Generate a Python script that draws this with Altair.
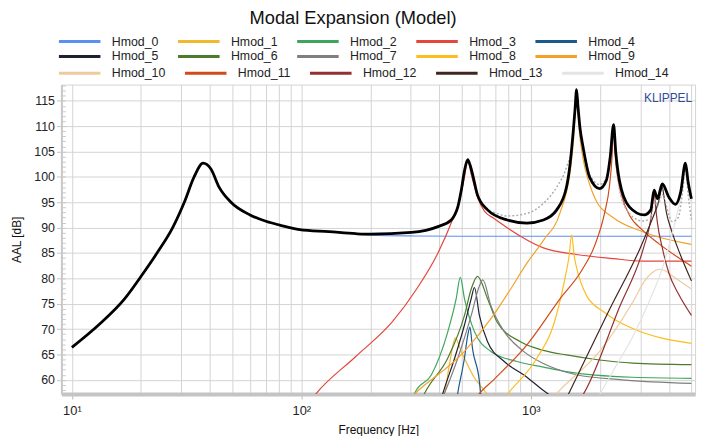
import altair as alt
import pandas as pd

# ---------------- data ----------------
TOTAL_F = [10, 13.07, 17, 20.1, 23.5, 27.5, 30.9, 34.1, 37.3, 40.3, 43.8, 49.1, 59.8, 70.6, 80.5, 98.4, 132,
           172.6, 200, 302, 394, 450, 466, 481, 498, 514, 531, 545, 557, 586, 648, 789, 962, 1135, 1297, 1431, 1483,
           1531, 1560, 1583, 1605, 1640, 1691, 1806, 1995, 2133, 2220, 2295, 2345, 2434, 2688, 3120, 3334, 3447,
           3563, 3743, 4000, 4272, 4500, 4721, 4850, 5012]
TOTAL_DB = [66.4, 70.8, 76.0, 80.5, 85.0, 90.0, 95.0, 100.0, 102.7, 101.6, 98.0, 95.1, 92.5, 91.2, 90.5, 89.6,
            89.2, 88.8, 88.7, 89.05, 90.2, 91.5, 92.5, 94.1, 97.4, 101.2, 103.4, 102.2, 100.6, 96.4, 93.5, 91.5, 90.9,
            91.5, 93.5, 98.0, 102.5, 109.0, 113.5, 117.2, 114.0, 109.5, 105.8, 99.9, 97.7, 99.3, 104.0, 110.3, 105.0,
            99.3, 94.1, 92.5, 93.5, 97.4, 95.7, 98.6, 96.0, 94.6, 97.0, 102.7, 99.0, 95.7]

DOT_F = [586, 648, 700, 789, 962, 1135, 1297, 1431, 1507, 1550, 1583, 1605, 1640, 1691, 1806, 1995, 2133, 2220, 2295,
         2345, 2434, 2688, 3070, 3334, 3447, 3563, 3743, 4000, 4130, 4392, 4600, 4721, 4850, 5012]
DOT_DB = [96.4, 93.6, 92.9, 92.3, 92.8, 94.8, 98.0, 101.9, 105.8, 111.0, 117.1, 114.0, 109.5, 106.0, 100.5, 98.5, 99.8,
          104.0, 110.0, 104.5, 97.5, 92.8, 91.3, 91.8, 95.5, 94.3, 96.5, 92.5, 91.2, 92.0, 97.5, 101.5, 96.5, 91.5]

H0_F = [10, 13.07, 17, 20.1, 23.5, 27.5, 30.9, 34.1, 37.3, 40.3, 43.8, 49.1, 59.8, 70.6, 80.5, 98.4, 132, 172.6,
        200, 314, 500, 1000, 2000, 5012]
H0_DB = [66.4, 70.8, 76.0, 80.5, 85.0, 90.0, 95.0, 100.0, 102.7, 101.6, 98.0, 95.1, 92.5, 91.2, 90.5, 89.6, 89.2,
         88.8, 88.5, 88.35, 88.3, 88.3, 88.3, 88.3]
H1_F = [400, 422, 444, 469, 498, 568, 637, 680]
H1_DB = [54.5, 57.5, 63.6, 68.2, 65.6, 60.4, 57.5, 55.5]
H2_F = [300, 313, 369, 435, 473, 493, 514, 568, 670, 873, 1135, 1431, 2780, 5012]
H2_DB = [55.5, 57.5, 61.0, 69.5, 76.0, 80.2, 76.0, 69.5, 65.6, 63.6, 62.5, 61.6, 60.5, 60.3]
H3_F = [110, 116, 172.7, 250, 318, 394, 458, 490, 514, 531, 550, 586, 627, 692, 789, 902, 1135, 1578, 2282, 3070, 5012]
H3_DB = [56.0, 57.3, 64.6, 71.5, 77.9, 85.0, 91.8, 95.5, 100.0, 103.2, 100.5, 96.0, 93.3, 91.8, 90.0, 88.3, 86.0,
         84.7, 83.9, 83.4, 83.4]
H4_F = [470, 481, 514, 530, 543, 557, 597, 604, 615]
H4_DB = [54.5, 57.5, 64.3, 68.5, 70.4, 66.2, 59.7, 57.5, 55.0]
H5_F = [400, 415, 466, 514, 550, 568, 597, 648, 766, 930, 1106, 1250]
H5_DB = [55.0, 57.5, 64.3, 70.8, 76.0, 78.2, 72.7, 67.5, 63.6, 61.0, 58.3, 56.5]
H6_F = [330, 346, 435, 514, 550, 586, 648, 713, 902, 1135, 1431, 1995, 2780, 5012]
H6_DB = [55.5, 57.5, 64.3, 72.7, 77.9, 80.4, 76.0, 71.4, 67.5, 65.8, 64.9, 63.9, 63.3, 63.0]
H7_F = [400, 422, 481, 550, 597, 618, 670, 766, 930, 1135, 1578, 2500, 5012]
H7_DB = [55.0, 57.5, 64.3, 72.7, 78.5, 79.7, 74.6, 69.5, 65.6, 63.2, 61.0, 60.0, 59.3]
H8_F = [700, 789, 1064, 1256, 1409, 1470, 1507, 1545, 1578, 1750, 2078, 2282, 2780, 5012]
H8_DB = [54.0, 57.1, 64.3, 70.8, 80.0, 84.5, 88.6, 84.5, 82.4, 76.6, 73.4, 72.1, 70.1, 67.2]
H9_F = [300, 313, 514, 689, 817, 962, 1135, 1343, 1483, 1540, 1583, 1620, 1691, 1806, 1932, 2282, 3070, 5012]
H9_DB = [56.5, 57.3, 65.6, 72.8, 77.9, 83.0, 87.5, 93.0, 101.0, 108.0, 117.0, 110.0, 103.5, 98.5, 95.2, 92.0, 89.2, 86.7]
H10_F = [1200, 1297, 1995, 2780, 3170, 3400, 3622, 3850, 4130, 5012]
H10_DB = [55.5, 57.3, 65.6, 75.3, 79.8, 81.2, 81.8, 81.5, 80.5, 77.9]
H11_F = [560, 597, 692, 962, 1343, 1664, 1900, 2100, 2200, 2260, 2295, 2330, 2400, 2500, 2688, 3070, 3622, 4392, 5012]
H11_DB = [55.8, 57.3, 60.1, 66.9, 76.0, 81.5, 86.5, 93.0, 98.0, 104.0, 110.3, 104.5, 99.5, 96.0, 92.5, 89.5, 86.8,
          84.1, 82.4]
H12_F = [1600, 1691, 2434, 3100, 3330, 3447, 3510, 3563, 3743, 4000, 4392, 5012]
H12_DB = [55.5, 57.1, 74.3, 86.0, 91.5, 96.8, 93.5, 91.0, 86.0, 81.0, 77.0, 72.7]
H13_F = [1400, 1457, 2211, 3000, 3370, 3600, 3743, 3800, 3900, 4100, 4500, 5012]
H13_DB = [55.5, 57.1, 74.0, 86.0, 91.5, 95.0, 98.0, 96.3, 93.0, 89.5, 84.5, 79.5]
H14_F = [1900, 1995, 2282, 2780, 3270, 3743, 4272, 4500, 4650, 4721, 4800, 4900, 5012]
H14_DB = [55.5, 57.1, 61.7, 68.5, 75.3, 82.0, 91.5, 96.0, 100.5, 102.3, 100.0, 97.0, 94.5]

MODE_NAMES = ["Hmod_%d" % i for i in range(15)]
MODE_COLORS = ["#5b8ff0", "#f2b830", "#3ea65c", "#e4463b", "#1b5a8e", "#1e2131", "#4b7b2b", "#7f7f7f",
               "#fbbe1e", "#f2a22b", "#eecb9c", "#d04a1a", "#953030", "#42241f", "#e4e4e4"]
MODE_F = [H0_F, H1_F, H2_F, H3_F, H4_F, H5_F, H6_F, H7_F, H8_F, H9_F, H10_F, H11_F, H12_F, H13_F, H14_F]
MODE_DB = [H0_DB, H1_DB, H2_DB, H3_DB, H4_DB, H5_DB, H6_DB, H7_DB, H8_DB, H9_DB, H10_DB, H11_DB, H12_DB, H13_DB,
           H14_DB]

X_GRID = [10, 20, 30, 40, 50, 60, 70, 80, 90, 100, 200, 300, 400, 500, 600, 700, 800, 900, 1000, 2000, 3000, 4000, 5000]
Y_TICKS = [60, 65, 70, 75, 80, 85, 90, 95, 100, 105, 110, 115]
Y_MINOR = list(range(58, 119))

FONT = "Liberation Sans"
W, H = 641, 313

# ---------------- chart ----------------
def long_df(idx):
    rows = []
    for i in idx:
        for k, (f, d) in enumerate(zip(MODE_F[i], MODE_DB[i])):
            rows.append({"mode": MODE_NAMES[i], "f": f, "db": d, "k": k})
    return pd.DataFrame(rows)


x_scale = alt.Scale(type="log", domain=[9, 5200], nice=False)
y_scale = alt.Scale(domain=[57.2, 118.2], nice=False, zero=False)

x_axis = alt.Axis(
    values=X_GRID, grid=True, gridColor="#d3d3d3", gridWidth=1,
    labelExpr="datum.value == 10 ? '10¹' : datum.value == 100 ? '10²' : datum.value == 1000 ? '10³' : ''",
    labelOverlap=False, labelFlush=False, labelFontSize=13, labelColor="#222", labelFont=FONT, labelPadding=6,
    tickSize=5, tickColor="#b8b8b8",
    tickOpacity={"condition": {"test": "datum.value == 10 || datum.value == 100 || datum.value == 1000", "value": 1},
                 "value": 0},
    domainColor="#c4c4c4", domainWidth=4,
    title="Frequency [Hz]", titleFontSize=12, titleFont=FONT, titleFontWeight="normal", titleColor="#111",
    titlePadding=7)
y_axis = alt.Axis(
    values=Y_TICKS, grid=True, gridColor="#d3d3d3", gridWidth=1,
    labelFontSize=12.5, labelColor="#222", labelFont=FONT, labelPadding=2,
    tickSize=5, tickColor="#c4c4c4", domainColor="#c8c8c8", domainWidth=2,
    title="AAL [dB]", titleFontSize=12, titleFont=FONT, titleFontWeight="normal", titleColor="#111",
    titlePadding=10)

X = alt.X("f:Q", scale=x_scale, axis=x_axis)
Y = alt.Y("db:Q", scale=y_scale, axis=y_axis)


def mode_layer(idx, legend_y):
    names = [MODE_NAMES[i] for i in idx]
    cols = [MODE_COLORS[i] for i in idx]
    return alt.Chart(long_df(idx)).mark_line(clip=True, strokeWidth=1.2, interpolate="monotone").encode(
        x=X, y=Y, order="k:Q",
        color=alt.Color("mode:N", scale=alt.Scale(domain=names, range=cols),
                        legend=alt.Legend(orient="none", legendX=-4, legendY=legend_y, direction="horizontal",
                                          title=None, symbolType="stroke", symbolSize=1764, symbolStrokeWidth=3,
                                          labelFontSize=12.5, labelFont=FONT, labelColor="#222", labelOffset=10,
                                          columnPadding=12.5)))


g1 = mode_layer(range(0, 5), -66)
g2 = mode_layer(range(5, 10), -51)
g3 = mode_layer(range(10, 15), -34)

dotted = alt.Chart(pd.DataFrame({"f": DOT_F, "db": DOT_DB})).mark_line(
    clip=True, color="#ababab", strokeWidth=1.4, strokeDash=[2, 2], interpolate="monotone").encode(x=X, y=Y)
total = alt.Chart(pd.DataFrame({"f": TOTAL_F, "db": TOTAL_DB})).mark_line(
    clip=True, color="#000000", strokeWidth=2.8, interpolate="monotone").encode(x=X, y=Y)
brand = alt.Chart(pd.DataFrame({"t": ["KLIPPEL"]})).mark_text(
    align="right", baseline="middle", color="#2f4b9b", fontSize=12, font=FONT).encode(
    x=alt.value(638), y=alt.value(14), text="t:N")

inner = alt.layer(g1, g2, g3, dotted, total, brand).resolve_scale(color="independent")

minor = alt.Chart(pd.DataFrame({"db": [60]})).mark_point(opacity=0).encode(
    y=alt.Y("db:Q", scale=y_scale,
            axis=alt.Axis(orient="right", offset=-W, values=Y_MINOR, labels=False, domain=False, grid=False,
                          tickSize=4, tickColor="#c8c8c8", title=None)))

chart = alt.layer(inner, minor).resolve_axis(y="independent").properties(
    width=W, height=H,
    title=alt.Title("Modal Expansion (Model)", fontSize=18.5, font=FONT, fontWeight="normal", color="#111",
                    anchor="middle", frame="bounds", offset=-8),
    padding={"left": 54, "top": 75, "right": 7, "bottom": 40},
    autosize=alt.AutoSizeParams(type="none"),
).configure_view(stroke="#d3d3d3")

chart.save("out.html", embed_options={"renderer": "svg", "actions": False})
